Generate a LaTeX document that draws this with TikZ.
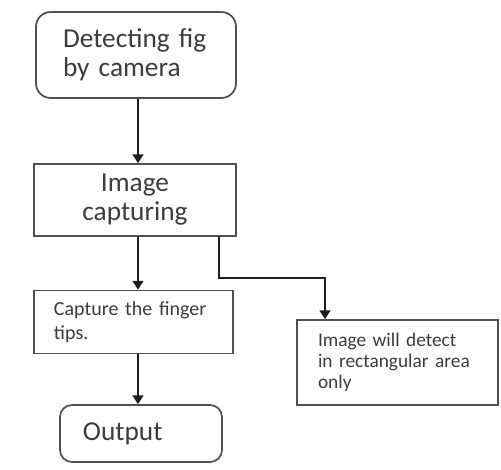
\documentclass[tikz,border=0pt]{standalone}
\usepackage{fontspec}
\setmainfont{Carlito}
\usetikzlibrary{arrows.meta,positioning}

\definecolor{boxline}{RGB}{80,80,80}
\definecolor{txt}{RGB}{60,60,60}
\definecolor{arrline}{RGB}{30,30,30}

\tikzset{
  box/.style={draw=boxline,line width=1.3pt,text=txt,inner ysep=2pt},
  roundbox/.style={box,rounded corners=11pt},
  bigtext/.style={font=\fontsize{20.5}{21.75}\selectfont},
  smalltext/.style={font=\fontsize{15}{18}\selectfont},
  arr/.style={draw=arrline,line width=1.5pt,-{Triangle[width=8pt,length=6.5pt]}}
}

\begin{document}
\begin{tikzpicture}[x=0.75pt,y=0.75pt,yscale=-1,xscale=1]
    \useasboundingbox (0,0) rectangle (501,469);

    % Text Node
    \node [roundbox,bigtext,minimum width=150pt,minimum height=64.5pt,inner xsep=20.25pt,text width=109.5pt,align=left] (detect) at (136,55) {Detecting fig\\by camera};
    % Text Node
    \node [box,bigtext,minimum width=151.5pt,minimum height=54pt,align=center] (imgcap) at (135,200) {Image\\capturing};
    % Text Node
    \node [box,smalltext,minimum width=149.25pt,minimum height=47.25pt,inner xsep=15pt,text width=119.25pt,align=left] (tips) at (133.5,322) {Capture the finger\\tips.};
    % Text Node
    \node [roundbox,bigtext,rounded corners=9pt,minimum width=121.5pt,minimum height=42.75pt,inner xsep=17.25pt,text width=87pt,align=left] (output) at (141,433.5) {Output};
    % Text Node
    \node [box,font=\fontsize{14.5}{16}\selectfont,minimum width=150.75pt,minimum height=63.75pt,inner xsep=15.75pt,text width=119.25pt,align=left] (area) at (397.5,362.5) {Image will detect\\in rectangular area\\only};

    \coordinate (bendA) at (219,278);
    \coordinate (bendB) at (325,278);

    % Connection
    \draw [arr] (138,0 |- detect.south) -- (138,0 |- imgcap.north);
    % Connection
    \draw [arr] (138,0 |- imgcap.south) -- (138,0 |- tips.north);
    % Connection
    \draw [arr] (138,0 |- tips.south) -- (138,0 |- output.north);
    % Connection
    \draw [arr] (bendA |- imgcap.south) -- (bendA) -- (bendB) -- (bendB |- area.north);

\end{tikzpicture}
\end{document}
